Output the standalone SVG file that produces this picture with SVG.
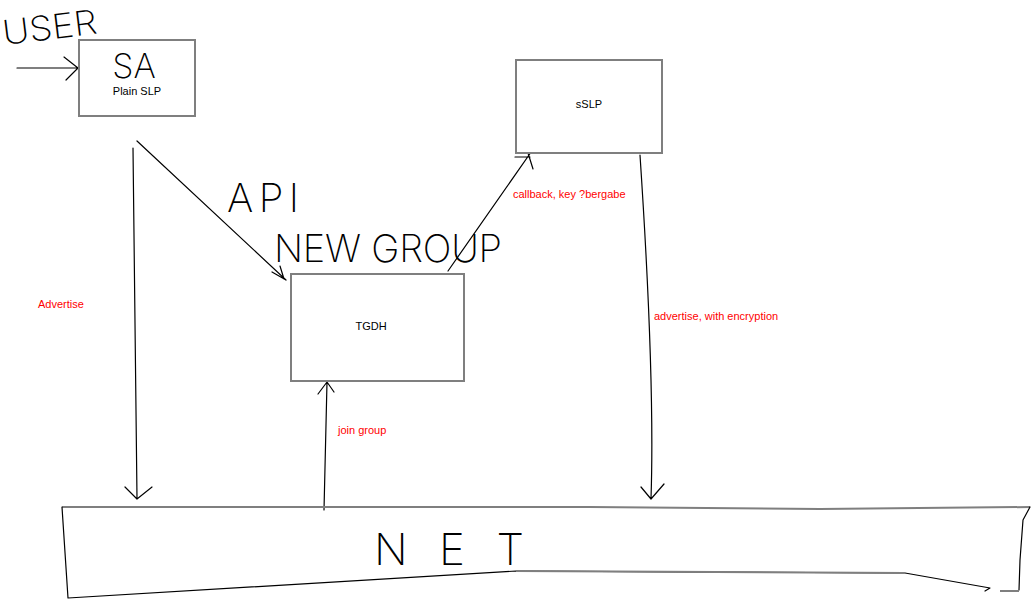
<svg xmlns="http://www.w3.org/2000/svg" width="1036" height="606" viewBox="0 0 1036 606">
<style>
.box{fill:#fff;stroke:#7f7f7f;stroke-width:2}
.ln{fill:none;stroke:#000;stroke-width:1.2;stroke-linecap:round;stroke-linejoin:round}
.gl{fill:none;stroke:#7f7f7f;stroke-width:2}
.lbl{font-family:"Liberation Sans",Arial,sans-serif;font-size:11px;fill:#000;text-anchor:middle}
.red{font-family:"Liberation Sans",Arial,sans-serif;font-size:11px;fill:#ff0000}
.hand{font-family:Inter,"DejaVu Sans",sans-serif;font-weight:200;fill:#000}
</style>
<rect width="1036" height="606" fill="#fff"/>
<g id="connectors">
  <path class="ln" d="M17,68 L78,68 M64,57 L78,68 L66,80"/>
  <path class="ln" d="M137,141 L286,280 M272,272 L286,280 M280,266 L284,279"/>
  <path class="ln" d="M448,271 L536,145 M515,157 L530,157 M528,153 L533,169"/>
  <path class="ln" d="M133,148 L137,498 M125,487 L137,499 L152,487"/>
  <path class="ln" d="M640,155 Q655,380 651,499 M641,487 L651,499 L664,484"/>
  <path class="ln" d="M324,510 L327,382 M318,394 L327,382 L334,392"/>
</g>
<g id="net">
  <path class="gl" d="M62,507 L590,507 L820,509 L1030,507"/>
  <path class="ln" d="M62,507 L68,598 L516,571 L905,573 L990,588 L985,591 M1030,507 L1023,520 L1020,560 L1019,590"/>
  <path class="gl" d="M1000,591 L1019,591"/>
  <path class="gl" d="M516,571 L905,573" stroke-width="1.5"/>
  <text class="hand" x="374" y="565" font-size="44" textLength="150" lengthAdjust="spacing">NET</text>
</g>
<g id="user">
  <text class="hand" x="4" y="45" font-size="34" textLength="95" lengthAdjust="spacingAndGlyphs" transform="rotate(-7 4 45)">USER</text>
</g>
<g id="sa">
  <rect class="box" x="79" y="40" width="116" height="76"/>
  <text class="hand" x="134" y="78" font-size="34" text-anchor="middle">SA</text>
  <text class="lbl" x="137" y="95">Plain SLP</text>
</g>
<g id="api">
  <text class="hand" x="227" y="212" font-size="40" textLength="72" lengthAdjust="spacing">API</text>
  <text class="hand" x="274" y="262" font-size="38" textLength="228" lengthAdjust="spacing">NEW GROUP</text>
</g>
<g id="sslp">
  <rect class="box" x="516" y="60" width="146" height="93"/>
  <text class="lbl" x="589" y="108">sSLP</text>
</g>
<g id="tgdh">
  <rect class="box" x="291" y="274" width="173" height="107"/>
  <text class="lbl" x="371" y="330">TGDH</text>
</g>
<g id="labels">
  <text class="red" x="513" y="198">callback, key ?bergabe</text>
  <text class="red" x="38" y="308">Advertise</text>
  <text class="red" x="654" y="320">advertise, with encryption</text>
  <text class="red" x="338" y="434">join group</text>
</g>
</svg>
